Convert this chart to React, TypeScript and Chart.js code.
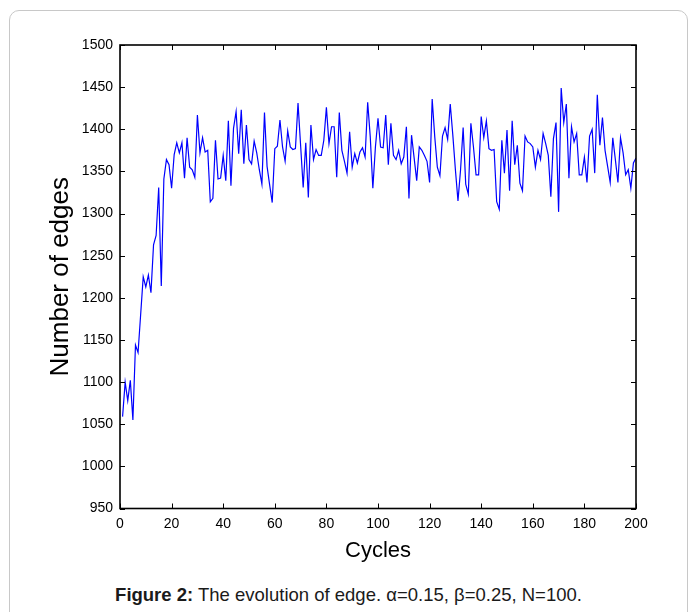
import React, { useEffect, useRef } from "react";
import { Chart, registerables } from "chart.js";

Chart.register(...registerables);

// Number of edges per cycle (cycles 1..200)
const edges: number[] = [
  1059, 1100, 1078, 1102, 1055, 1144, 1135, 1180, 1225, 1213,
  1227, 1206, 1263, 1274, 1331, 1214, 1341, 1364, 1358, 1330,
  1370, 1384, 1372, 1384, 1342, 1390, 1355, 1352, 1343, 1417,
  1372, 1390, 1373, 1375, 1314, 1318, 1387, 1341, 1342, 1369,
  1339, 1410, 1333, 1401, 1421, 1371, 1423, 1359, 1405, 1364,
  1359, 1386, 1372, 1352, 1335, 1420, 1356, 1334, 1313, 1377,
  1380, 1411, 1379, 1362, 1398, 1379, 1376, 1377, 1431, 1381,
  1331, 1384, 1319, 1405, 1364, 1376, 1369, 1369, 1387, 1426,
  1383, 1403, 1403, 1343, 1420, 1375, 1362, 1348, 1397, 1355,
  1371, 1360, 1373, 1378, 1367, 1432, 1391, 1330, 1379, 1413,
  1379, 1378, 1417, 1358, 1407, 1369, 1364, 1375, 1359, 1367,
  1403, 1318, 1393, 1366, 1339, 1379, 1375, 1369, 1362, 1337,
  1436, 1391, 1355, 1345, 1392, 1402, 1388, 1430, 1393, 1352,
  1315, 1352, 1402, 1335, 1323, 1407, 1379, 1346, 1346, 1415,
  1390, 1410, 1377, 1375, 1376, 1314, 1305, 1387, 1348, 1399,
  1327, 1410, 1358, 1381, 1336, 1327, 1392, 1385, 1383, 1379,
  1355, 1375, 1364, 1395, 1383, 1369, 1320, 1389, 1408, 1302,
  1449, 1408, 1430, 1342, 1403, 1385, 1395, 1346, 1346, 1367,
  1337, 1392, 1400, 1348, 1441, 1381, 1414, 1375, 1356, 1337,
  1390, 1364, 1337, 1390, 1372, 1346, 1352, 1330, 1360, 1366,
];

const cycles: number[] = edges.map((_, i) => i + 1);

const xTickValues: number[] = [0, 20, 40, 60, 80, 100, 120, 140, 160, 180, 200];
const yTickValues: number[] = [950, 1000, 1050, 1100, 1150, 1200, 1250, 1300, 1350, 1400, 1450, 1500];

const FONT = "'Liberation Sans', Arial, Helvetica, sans-serif";

const boxPlugin = {
  id: "matlabBox",
  afterDatasetsDraw(chart: any) {
    const { ctx, chartArea: a, scales } = chart;
    const L = 5;
    ctx.save();
    ctx.strokeStyle = "#000";
    ctx.lineWidth = 1;
    ctx.beginPath();
    for (const v of xTickValues) {
      const px = Math.round(scales.x.getPixelForValue(v)) + 0.5;
      ctx.moveTo(px, a.bottom);
      ctx.lineTo(px, a.bottom - L);
      ctx.moveTo(px, a.top);
      ctx.lineTo(px, a.top + L);
    }
    for (const v of yTickValues) {
      const py = Math.round(scales.y.getPixelForValue(v)) + 0.5;
      ctx.moveTo(a.left, py);
      ctx.lineTo(a.left + L, py);
      ctx.moveTo(a.right, py);
      ctx.lineTo(a.right - L, py);
    }
    ctx.stroke();
    ctx.lineWidth = 1.6;
    ctx.strokeRect(a.left, a.top, a.right - a.left, a.bottom - a.top);
    ctx.restore();
  },
};

export default function App() {
  const canvasRef = useRef<HTMLCanvasElement | null>(null);

  useEffect(() => {
    if (!canvasRef.current) return;
    const chart = new Chart(canvasRef.current, {
      type: "line",
      data: {
        datasets: [
          {
            data: cycles.map((c, i) => ({ x: c, y: edges[i] })),
            borderColor: "#0000ff",
            borderWidth: 1.2,
            pointRadius: 0,
            tension: 0,
            fill: false,
          },
        ],
      },
      options: {
        animation: false,
        responsive: false,
        devicePixelRatio: 1,
        layout: { padding: { left: 0, right: 58, top: 45, bottom: 0 } },
        plugins: {
          legend: { display: false },
          tooltip: { enabled: false },
        },
        scales: {
          x: {
            type: "linear",
            min: 0,
            max: 200,
            afterBuildTicks: (s: any) => {
              s.ticks = xTickValues.map((v) => ({ value: v }));
            },
            afterFit: (s: any) => {
              s.height = 61.5;
            },
            grid: { display: false, drawTicks: false },
            border: { display: false },
            ticks: {
              padding: 7,
              color: "#000",
              autoSkip: false,
              maxRotation: 0,
              font: { family: FONT, size: 14 },
              callback: (v: any) => String(v),
            },
            title: {
              display: true,
              text: "Cycles",
              color: "#000",
              font: { family: FONT, size: 22 },
              padding: { top: 0, bottom: 6 },
            },
          },
          y: {
            type: "linear",
            min: 950,
            max: 1500,
            afterBuildTicks: (s: any) => {
              s.ticks = yTickValues.map((v) => ({ value: v }));
            },
            afterFit: (s: any) => {
              s.width = 120;
            },
            grid: { display: false, drawTicks: false },
            border: { display: false },
            ticks: {
              padding: 7,
              color: "#000",
              autoSkip: false,
              font: { family: FONT, size: 14 },
              callback: (v: any) => String(v),
            },
            title: {
              display: true,
              text: "Number of edges",
              color: "#000",
              font: { family: FONT, size: 26 },
              padding: { top: 45, bottom: 0 },
            },
          },
        },
      },
      plugins: [boxPlugin],
    });
    return () => chart.destroy();
  }, []);

  return (
    <div
      style={{
        position: "fixed",
        left: 0,
        top: 0,
        width: 694,
        height: 612,
        overflow: "hidden",
        background: "#fff",
      }}
    >
      <div
        style={{
          position: "absolute",
          left: 9,
          top: 10,
          width: 677,
          height: 640,
          border: "1px solid #c8c8c8",
          borderRadius: 10,
        }}
      />
      <canvas
        ref={canvasRef}
        width={694}
        height={570}
        style={{ position: "absolute", left: 0, top: 0, width: 694, height: 570 }}
      />
      <div
        style={{
          position: "absolute",
          left: 9,
          top: 584,
          width: 679,
          textAlign: "center",
          fontFamily: FONT,
          fontSize: 18.5,
          lineHeight: "22px",
          color: "#1a1a1a",
          whiteSpace: "nowrap",
        }}
      >
        <b>Figure 2:</b> The evolution of edge. α=0.15, β=0.25, N=100.
      </div>
    </div>
  );
}
